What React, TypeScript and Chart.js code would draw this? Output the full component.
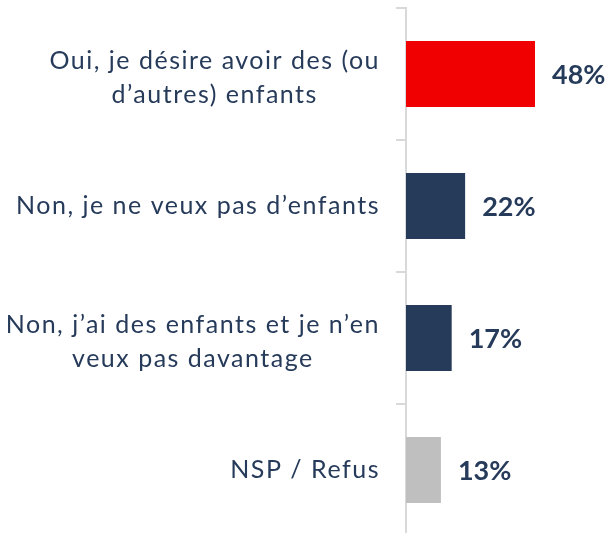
import React, { useEffect, useRef } from "react";
import { Chart, registerables } from "chart.js";

Chart.register(...registerables);

const categories: string[][] = [
  ["Oui, je désire avoir des (ou", "d’autres) enfants"],
  ["Non, je ne veux pas d’enfants"],
  ["Non, j’ai des enfants et je n’en", "veux pas davantage"],
  ["NSP / Refus"],
];
const values: number[] = [48, 22, 17, 13];
const barColors: string[] = ["#f00000", "#263a5a", "#263a5a", "#bfbfbf"];

const TEXT_COLOR = "#263a5a";
const FONT_FAMILY = "Lato, 'Open Sans', sans-serif";

const labelPlugin = {
  id: "customLabels",
  afterDraw(chart: any) {
    const ctx = chart.ctx;
    const yScale = chart.scales.y;
    ctx.save();
    // category labels: right-aligned blocks, centered lines
    ctx.font = `25px ${FONT_FAMILY}`;
    try {
      ctx.letterSpacing = "1.5px";
    } catch (e) {}
    ctx.fillStyle = TEXT_COLOR;
    ctx.textAlign = "center";
    ctx.textBaseline = "middle";
    const lh = 34;
    const rightEdge = yScale.right - 26;
    categories.forEach((lines, i) => {
      const cy = yScale.getPixelForValue(i) + (lines.length - 1) * 4;
      const widest = Math.max(...lines.map((l) => ctx.measureText(l).width));
      const cx = rightEdge - widest / 2;
      const y0 = cy - ((lines.length - 1) * lh) / 2;
      lines.forEach((l, j) => ctx.fillText(l, cx, y0 + j * lh));
    });
    // value labels
    try {
      ctx.letterSpacing = "0px";
    } catch (e) {}
    ctx.font = `bold 27px ${FONT_FAMILY}`;
    ctx.textAlign = "left";
    const meta = chart.getDatasetMeta(0);
    meta.data.forEach((bar: any, i: number) => {
      ctx.fillText(`${values[i]}%`, bar.x + 17, bar.y + 1);
    });
    ctx.restore();
  },
};

export default function App() {
  const ref = useRef<HTMLCanvasElement | null>(null);
  useEffect(() => {
    if (!ref.current) return;
    const chart = new Chart(ref.current, {
      type: "bar",
      data: {
        labels: categories.map((c) => c.join(" ")),
        datasets: [
          {
            data: values,
            backgroundColor: barColors,
            barPercentage: 0.5,
            categoryPercentage: 1,
            borderWidth: 0,
          },
        ],
      },
      options: {
        indexAxis: "y",
        animation: false,
        responsive: false,
        devicePixelRatio: 1,
        layout: { padding: { top: 8, bottom: 4, left: 0, right: 10.5 } },
        plugins: {
          legend: { display: false },
          tooltip: { enabled: false },
        },
        scales: {
          x: {
            display: false,
            min: 0,
            max: 72,
          },
          y: {
            afterFit: (scale: any) => {
              scale.width = 406;
            },
            ticks: { display: false },
            grid: {
              drawOnChartArea: false,
              drawTicks: true,
              tickLength: 10,
              color: "#d9d9d9",
              lineWidth: 2,
              offset: true,
            },
            border: { display: true, color: "#d9d9d9", width: 2 },
          },
        },
      },
      plugins: [labelPlugin],
    });
    return () => chart.destroy();
  }, []);
  return (
    <div
      style={{
        position: "fixed",
        left: 0,
        top: 0,
        width: 610,
        height: 533,
        overflow: "hidden",
        background: "#fff",
      }}
    >
      <canvas ref={ref} width={610} height={540} />
    </div>
  );
}
